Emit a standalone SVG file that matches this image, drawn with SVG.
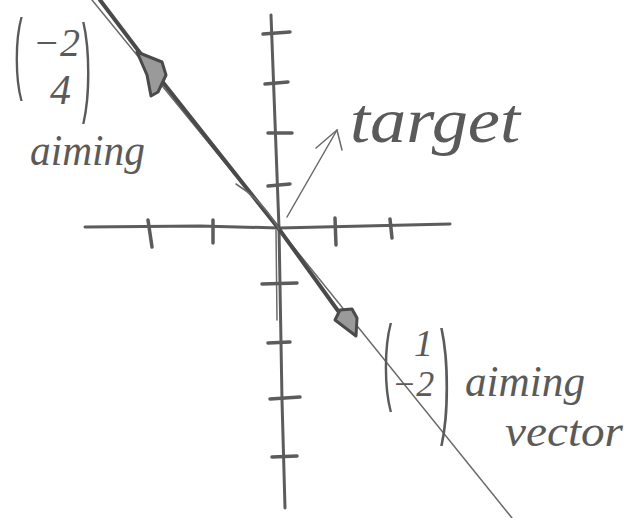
<svg xmlns="http://www.w3.org/2000/svg" width="629" height="518" viewBox="0 0 629 518">
<style>
.ax{stroke:#5c5c5c;stroke-width:3;fill:none;stroke-linecap:round}
.tk{stroke:#5c5c5c;stroke-width:3.5;fill:none;stroke-linecap:round}
.thin{stroke:#6a6a6a;stroke-width:1.5;fill:none;stroke-linecap:round}
.vec{stroke:#4a4a4a;stroke-width:4;fill:none;stroke-linecap:round}
.hd{stroke:#4a4a4a;stroke-width:3;fill:#9a9a9a;stroke-linejoin:round}
.hw{font-family:"Liberation Serif",serif;font-style:italic;fill:#5a5a5a}
.pr{font-family:"Liberation Sans",sans-serif;fill:#5a5a5a}
</style>
<rect width="629" height="518" fill="#ffffff"/>
<g id="axes">
<path class="ax" d="M85 227 L200 226 L279 228 L450 224"/>
<path class="ax" d="M271 15 L279 228 L282 400 L285 508"/>
<path class="thin" d="M276 230 L277 320"/>
<g id="ticks">
<path class="tk" d="M148 220 L152 247 M213 220 L213 243 M335 218 L336 245 M390 219 L392 238"/>
<path class="tk" d="M263 34 L290 32 M265 84 L288 82 M268 133 L292 133 M268 186 L290 184"/>
<path class="tk" d="M262 284 L297 283 M268 343 L290 342 M270 399 L300 397 M272 457 L297 456"/>
</g>
</g>
<g id="connectors">
<path class="thin" d="M92 0 L279 229 L512 518"/>
<path class="vec" d="M100 0 L150 66 L279 229 L354 333"/>
<path class="thin" d="M236 184 Q262 200 279 229"/>
<path class="hd" d="M137 52 L162 62 L166 75 L158 92 L151 96 L147 75 Z"/>
<path class="hd" d="M356 336 L335 320 L340 310 L352 309 L357 318 Z"/>
<path class="thin" d="M287 217 L337 130"/>
<path class="thin" d="M316 148 L337 130 L342 150"/>
</g>
<g id="label-aim1">
<text class="pr" x="14" y="82" font-size="48" transform="translate(14 82) scale(0.55 1.85) translate(-14 -82)">(</text>
<text class="hw" x="33" y="56" font-size="40">−2</text>
<text class="hw" x="50" y="104" font-size="42">4</text>
<text class="pr" x="82" y="101" font-size="50" transform="translate(82 101) scale(0.55 2.2) translate(-82 -101)">)</text>
<text class="hw" x="30" y="165" font-size="44" textLength="115" lengthAdjust="spacingAndGlyphs">aiming</text>
</g>
<g id="label-target">
<text class="hw" x="350" y="142" font-size="64" textLength="170" lengthAdjust="spacingAndGlyphs">target</text>
</g>
<g id="label-aim2">
<text class="pr" x="383" y="392" font-size="50" transform="translate(383 392) scale(0.55 1.9) translate(-383 -392)">(</text>
<text class="hw" x="414" y="356" font-size="38">1</text>
<text class="hw" x="392" y="396" font-size="36">−2</text>
<text class="pr" x="440" y="420" font-size="60" transform="translate(440 420) scale(0.5 2.1) translate(-440 -420)">)</text>
<text class="hw" x="465" y="396" font-size="44" textLength="120" lengthAdjust="spacingAndGlyphs">aiming</text>
<text class="hw" x="505" y="446" font-size="44" textLength="118" lengthAdjust="spacingAndGlyphs">vector</text>
</g>
</svg>
